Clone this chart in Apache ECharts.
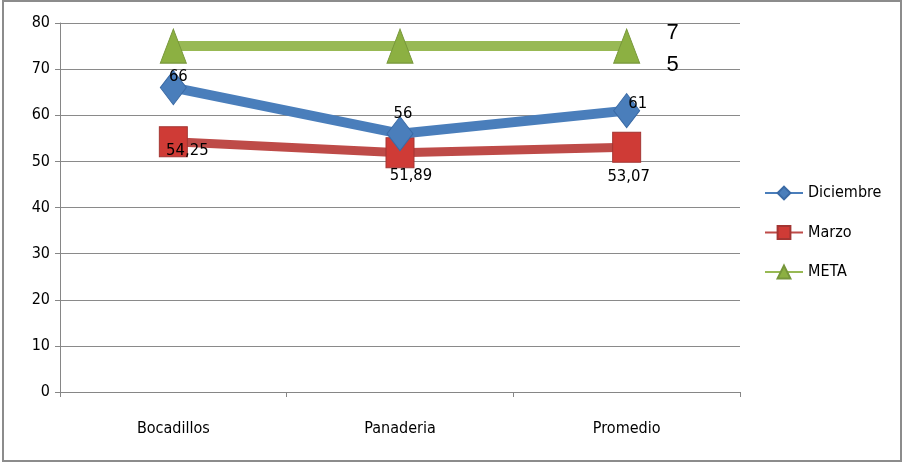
<!DOCTYPE html>
<html>
<head>
<meta charset="utf-8">
<style>
  html, body { margin: 0; padding: 0; background: #ffffff; }
  #chart { width: 903px; height: 463px; }
</style>
<script src="https://cdn.jsdelivr.net/npm/echarts@6/dist/echarts.min.js"></script>
</head>
<body>
<div id="chart"></div>
<script>
// ---- data ----
const categories = ['Bocadillos', 'Panaderia', 'Promedio'];
const diciembre = [66, 56, 61];
const marzo = [54.25, 51.89, 53.07];
const meta = [75, 75, 75];
const yTicks = [0, 10, 20, 30, 40, 50, 60, 70, 80];

// label offsets (styling, kept separate from data)
const marzoLabelOffsets = [[14, 9], [11, 23], [2, 30]];
const dicLabelOffsets = [[5, -11], [3, -20], [11, -7]];

const FONT = '"Liberation Sans Narrow", "DejaVu Sans Condensed", "Arial Narrow", sans-serif';
const BLUE = '#4a7ebb', RED = '#be4b48', GREEN = '#98b954';

const chart = echarts.init(document.getElementById('chart'), null, { renderer: 'canvas' });

function fmtComma(v) { return String(v).replace('.', ','); }

const option = {
  animation: false,
  backgroundColor: '#ffffff',
  graphic: [{
    type: 'rect', x: 0, y: 0,
    shape: { x: 3, y: 1, width: 898, height: 460 },
    style: { fill: 'none', stroke: '#8c8c8c', lineWidth: 2 }
  }],
  grid: { left: 60, right: 163, top: 23, bottom: 71, containLabel: false },
  legend: {
    orient: 'vertical',
    left: 759, top: 180,
    itemWidth: 38, itemHeight: 16, itemGap: 23.5,
    textStyle: { fontFamily: FONT, fontSize: 16, color: '#000' },
    data: ['Diciembre', 'Marzo', 'META']
  },
  xAxis: {
    type: 'category',
    data: categories,
    boundaryGap: true,
    axisLine: { lineStyle: { color: '#868686', width: 1 } },
    axisTick: { show: true, length: 5, lineStyle: { color: '#868686' } },
    axisLabel: { fontFamily: FONT, fontSize: 16, color: '#000', margin: 29 }
  },
  yAxis: {
    type: 'value',
    min: yTicks[0], max: yTicks[yTicks.length - 1], interval: 10,
    axisLine: { show: true, lineStyle: { color: '#868686', width: 1 } },
    axisTick: { show: true, length: 5, inside: false, lineStyle: { color: '#868686' } },
    splitLine: { lineStyle: { color: '#8a8a8a', width: 1 } },
    axisLabel: { fontFamily: FONT, fontSize: 16, color: '#000', margin: 10 }
  },
  series: [
    {
      name: 'Diciembre', type: 'line', data: diciembre.map((v, i) => ({
        value: v, label: { offset: dicLabelOffsets[i] }
      })),
      symbol: 'diamond', symbolSize: [26, 34],
      lineStyle: { color: BLUE, width: 10 },
      itemStyle: { color: BLUE, borderColor: '#3a6aa5', borderWidth: 1 },
      label: { show: true, position: 'inside', fontFamily: FONT, fontSize: 16.5, color: '#000',
        formatter: p => fmtComma(p.value) },
      z: 3
    },
    {
      name: 'Marzo', type: 'line', data: marzo.map((v, i) => ({
        value: v, label: { offset: marzoLabelOffsets[i] }
      })),
      symbol: 'rect', symbolSize: [28, 30],
      lineStyle: { color: RED, width: 9 },
      itemStyle: { color: '#cf3b36', borderColor: '#a33532', borderWidth: 1 },
      label: { show: true, position: 'inside', fontFamily: FONT, fontSize: 16.5, color: '#000',
        formatter: p => fmtComma(p.value) },
      z: 2
    },
    {
      name: 'META', type: 'line', data: meta.map((v, i) => ({
        value: v,
        label: { show: i === meta.length - 1 }
      })),
      symbol: 'triangle', symbolSize: [26, 34],
      lineStyle: { color: GREEN, width: 10 },
      itemStyle: { color: '#8cb042', borderColor: '#76963a', borderWidth: 1 },
      label: { position: 'inside', offset: [46, 3], fontFamily: 'Liberation Sans, Arial, sans-serif',
        fontSize: 22, lineHeight: 32, color: '#000',
        formatter: p => String(p.value).split('').join('\n') },
      z: 1
    }
  ]
};
chart.setOption(option);
</script>
</body>
</html>
